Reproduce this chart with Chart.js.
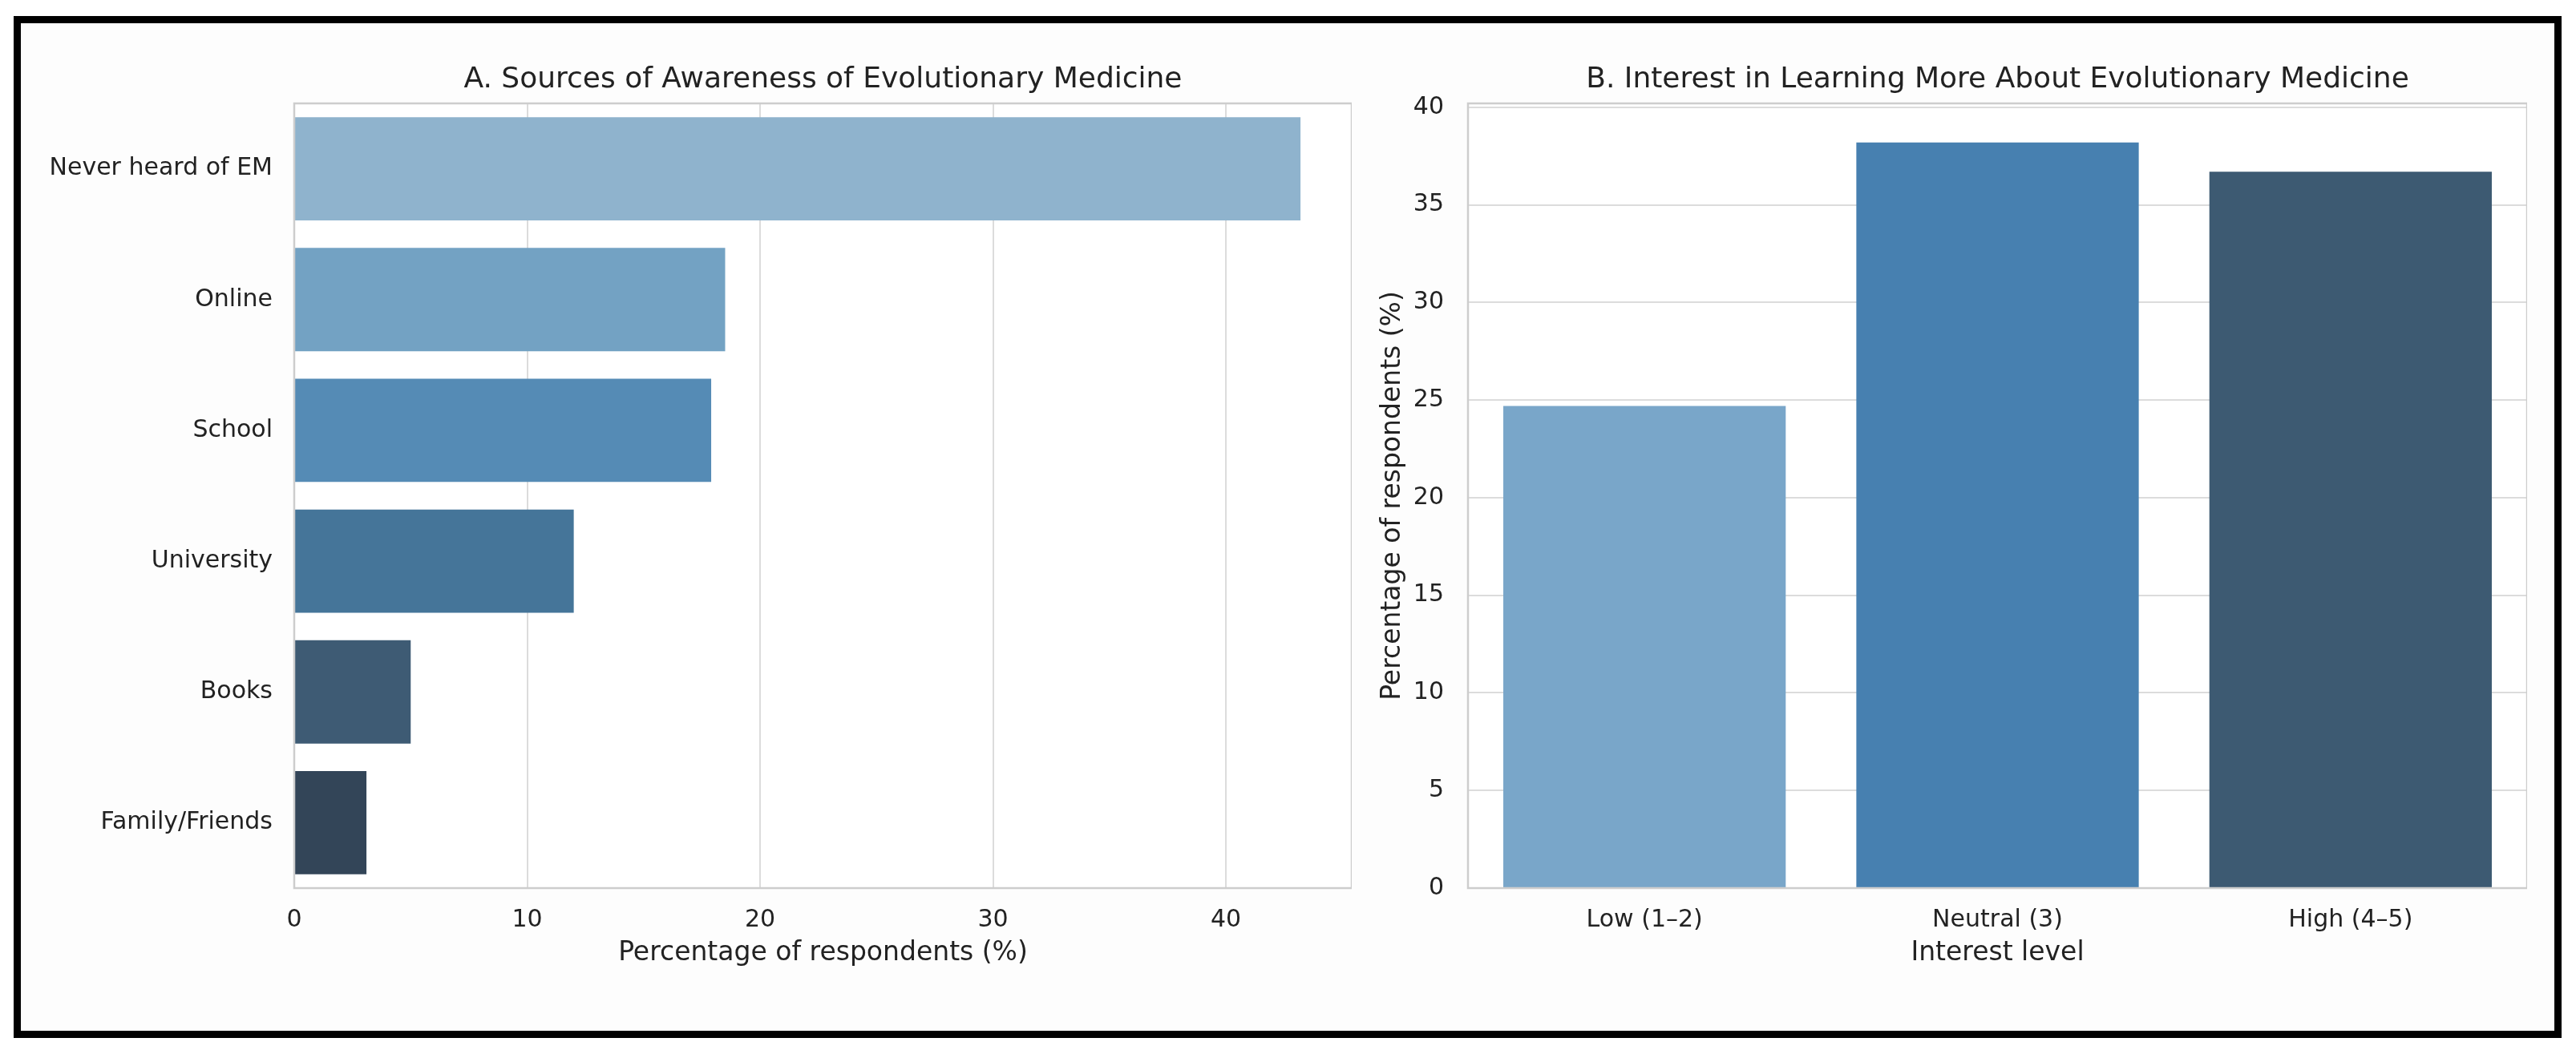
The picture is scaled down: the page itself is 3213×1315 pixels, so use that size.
<!DOCTYPE html>
<html>
<head>
<meta charset="utf-8">
<script src="https://cdn.jsdelivr.net/npm/chart.js@4.4.0/dist/chart.umd.min.js"></script>
<style>
    html, body { margin: 0; padding: 0; background: #ffffff; }
    body { width: 3213px; height: 1315px; position: relative; overflow: hidden; }
    #frame {
        position: absolute; left: 17px; top: 20px; width: 3178px; height: 1275px;
        box-sizing: border-box; border: 9px solid #000000; background: #fdfdfd;
    }
    canvas { position: absolute; }
    #awareChart { left: 30px; top: 30px; }
    #interestChart { left: 1700px; top: 30px; }
</style>
</head>
<body>
<div id="frame"></div>
<canvas id="awareChart" width="1656" height="1250"></canvas>
<canvas id="interestChart" width="1452" height="1250"></canvas>
<script>
const SOURCES = ['Never heard of EM', 'Online', 'School', 'University', 'Books', 'Family/Friends'];
const SOURCE_PCT = [43.2, 18.5, 17.9, 12.0, 5.0, 3.1];
const SOURCE_TICKS = [0, 10, 20, 30, 40];
const SOURCE_COLORS = ['#8fb3cd', '#73a2c3', '#558bb5', '#457599', '#3e5b74', '#334558'];

const LEVELS = ['Low (1\u20132)', 'Neutral (3)', 'High (4\u20135)'];
const LEVEL_PCT = [24.7, 38.2, 36.7];
const LEVEL_TICKS = [0, 5, 10, 15, 20, 25, 30, 35, 40];
const LEVEL_COLORS = ['#79a6c9', '#4780b0', '#3d5a72'];

const TEXT_COLOR = '#222222';
const GRID_COLOR = '#dcdcdc';
const SPINE_COLOR = '#cdcdcd';

// white plot face and a light box round each axes, like seaborn whitegrid
const plotFrame = {
    id: 'plotFrame',
    beforeDraw(chart) {
        const a = chart.chartArea;
        const ctx = chart.ctx;
        ctx.save();
        ctx.fillStyle = '#ffffff';
        ctx.fillRect(a.left, a.top, a.right - a.left, a.bottom - a.top);
        ctx.restore();
    },
    afterDatasetsDraw(chart) {
        const a = chart.chartArea;
        const ctx = chart.ctx;
        ctx.save();
        ctx.strokeStyle = SPINE_COLOR;
        ctx.lineWidth = 2.5;
        ctx.strokeRect(a.left, a.top, a.right - a.left, a.bottom - a.top);
        ctx.restore();
    }
};

function useTicks(values) {
    return (axis) => { axis.ticks = values.map(v => ({ value: v })); };
}

function titleOptions(text) {
    return {
        display: true,
        text: text,
        fullSize: false,
        color: TEXT_COLOR,
        font: { size: 36, weight: 'normal' },
        padding: { top: 48.4, bottom: 7.4 }
    };
}

function axisTitle(text, padding) {
    return {
        display: true,
        text: text,
        color: TEXT_COLOR,
        font: { size: 33, weight: 'normal' },
        padding: padding
    };
}

function createAwarenessChart() {
    const CTX = document.getElementById('awareChart').getContext('2d');
    return new Chart(CTX, {
        type: 'bar',
        data: {
            labels: SOURCES,
            datasets: [{
                data: SOURCE_PCT,
                backgroundColor: SOURCE_COLORS,
                borderWidth: 0,
                barPercentage: 0.79,
                categoryPercentage: 1.0
            }]
        },
        options: {
            indexAxis: 'y',
            responsive: false,
            animation: false,
            devicePixelRatio: 1,
            layout: { padding: 0 },
            plugins: {
                legend: { display: false },
                tooltip: { enabled: false },
                title: titleOptions('A. Sources of Awareness of Evolutionary Medicine')
            },
            scales: {
                x: {
                    type: 'linear',
                    min: 0,
                    max: 45.4,
                    afterBuildTicks: useTicks(SOURCE_TICKS),
                    afterFit: (s) => { s.height = 172; },
                    grid: { color: GRID_COLOR, lineWidth: 2, drawTicks: false },
                    border: { display: false },
                    ticks: { padding: 22, color: TEXT_COLOR, font: { size: 30 } },
                    title: axisTitle('Percentage of respondents (%)', { top: 0, bottom: 71.2 })
                },
                y: {
                    type: 'category',
                    afterFit: (s) => { s.width = 337; },
                    grid: { display: false, drawTicks: false },
                    border: { display: false },
                    ticks: { padding: 27, color: TEXT_COLOR, font: { size: 30 } }
                }
            }
        },
        plugins: [plotFrame]
    });
}

function createInterestChart() {
    const CTX = document.getElementById('interestChart').getContext('2d');
    return new Chart(CTX, {
        type: 'bar',
        data: {
            labels: LEVELS,
            datasets: [{
                data: LEVEL_PCT,
                backgroundColor: LEVEL_COLORS,
                borderWidth: 0,
                barPercentage: 0.8,
                categoryPercentage: 1.0
            }]
        },
        options: {
            responsive: false,
            animation: false,
            devicePixelRatio: 1,
            layout: { padding: 0 },
            plugins: {
                legend: { display: false },
                tooltip: { enabled: false },
                title: titleOptions('B. Interest in Learning More About Evolutionary Medicine')
            },
            scales: {
                x: {
                    type: 'category',
                    afterFit: (s) => { s.height = 172; },
                    grid: { display: false, drawTicks: false },
                    border: { display: false },
                    ticks: { padding: 22, color: TEXT_COLOR, font: { size: 30 } },
                    title: axisTitle('Interest level', { top: 0, bottom: 71.2 })
                },
                y: {
                    type: 'linear',
                    min: 0,
                    max: 40.2,
                    afterBuildTicks: useTicks(LEVEL_TICKS),
                    afterFit: (s) => { s.width = 131; },
                    grid: { color: GRID_COLOR, lineWidth: 2, drawTicks: false },
                    border: { display: false },
                    ticks: { padding: 30, color: TEXT_COLOR, font: { size: 30 } },
                    title: axisTitle('Percentage of respondents (%)', { top: 17.2, bottom: 0 })
                }
            }
        },
        plugins: [plotFrame]
    });
}

Chart.defaults.font.family = "'DejaVu Sans', sans-serif";
Chart.defaults.color = TEXT_COLOR;
createAwarenessChart();
createInterestChart();
</script>
</body>
</html>
